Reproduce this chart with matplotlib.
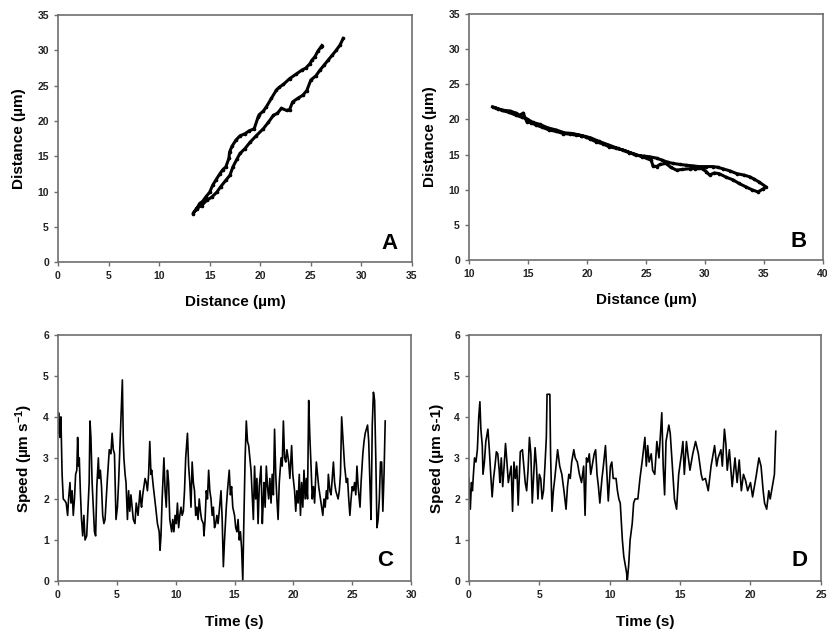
import matplotlib
matplotlib.use("Agg")
import matplotlib.pyplot as plt
import numpy as np

plt.rcParams['font.family'] = ['Liberation Sans', 'DejaVu Sans']
plt.rcParams['font.weight'] = 'bold'
plt.rcParams['mathtext.fontset'] = 'custom'
plt.rcParams['mathtext.rm'] = 'Liberation Sans:bold'
plt.rcParams['mathtext.bf'] = 'Liberation Sans:bold'
plt.rcParams['mathtext.default'] = 'bf'

# panel A: trajectory (um)
a_x = [26.1, 26.0, 25.7, 25.4, 25.1, 24.9, 24.5, 24.1, 23.5, 22.9, 22.3, 21.9, 21.6, 21.1,
       20.6, 20.3, 19.9, 19.8, 19.4, 18.9, 18.5, 18.0, 17.6, 17.2, 16.97, 16.9, 16.6, 16.3,
       16.0, 15.6, 15.3, 15.0, 14.6, 14.3, 14.0, 13.7, 13.35,
       13.7, 14.2, 14.7, 15.2, 15.7, 16.1, 16.6, 17.0, 17.3, 17.7, 18.0, 18.5, 19.0, 19.6,
       20.3, 20.8, 21.3, 21.7, 22.1, 22.6, 22.9, 23.2, 23.7, 24.2, 24.6, 25.0, 25.5, 25.9,
       26.3, 26.7, 27.1, 27.5, 27.9, 28.2]
a_y = [30.7, 30.5, 29.9, 29.1, 28.6, 28.1, 27.5, 27.2, 26.6, 26.0, 25.2, 24.8, 24.4, 23.2,
       22.0, 21.4, 20.9, 20.6, 18.9, 18.6, 18.2, 17.9, 17.3, 16.4, 15.6, 14.7, 13.5, 13.1,
       12.5, 11.6, 10.9, 9.9, 9.2, 8.6, 8.3, 7.5, 6.86,
       7.6, 8.0, 8.75, 9.2, 9.9, 10.7, 11.6, 12.3, 13.5, 14.6, 15.4, 16.1, 17.0, 17.9,
       18.9, 19.8, 20.8, 21.1, 21.8, 21.5, 21.6, 22.7, 23.2, 23.65, 24.3, 25.8, 26.4, 27.2,
       27.9, 28.6, 29.3, 30.0, 30.8, 31.7]

# panel B: trajectory (um)
b_x = [12.0, 12.5, 12.9, 13.5, 14.0, 14.3, 14.6, 14.9, 15.3, 15.7, 16.2, 16.8, 17.4, 18.0,
       18.6, 19.1, 19.5, 19.9, 20.3, 20.8, 21.4, 21.9, 22.5, 23.05, 23.6, 24.2, 24.8, 25.3,
       25.9, 26.4, 26.9, 27.3, 27.9, 28.4, 29.0, 29.5, 30.1, 30.7, 31.1, 31.5, 32.1, 32.7,
       33.3, 33.8, 34.2, 34.6, 35.2,
       34.9, 34.5, 34.0, 33.5, 32.9, 32.4, 31.8, 31.2, 30.8, 30.4, 30.1, 29.8, 29.2, 28.7,
       28.1, 27.6, 27.1, 26.7, 26.2, 25.9, 25.6, 25.45, 24.7, 24.0, 23.3, 22.6, 21.8, 21.0,
       20.3, 19.6, 18.8, 18.1, 17.4, 16.7, 16.0, 15.4, 14.9, 14.5, 14.0, 13.4, 12.8, 12.3]
b_y = [21.8, 21.5, 21.3, 21.2, 20.9, 20.6, 20.9, 19.7, 19.5, 19.2, 18.9, 18.5, 18.3, 18.0,
       17.9, 17.8, 17.7, 17.5, 17.2, 16.8, 16.5, 16.1, 15.9, 15.65, 15.3, 14.9, 14.8, 14.7,
       14.5, 14.2, 13.9, 13.75, 13.6, 13.5, 13.4, 13.3, 13.3, 13.3, 13.2, 13.0, 12.7, 12.3,
       12.1, 11.85, 11.5, 11.1, 10.4,
       10.1, 9.7, 10.0, 10.4, 10.9, 11.4, 11.8, 12.3, 12.4, 12.1, 12.6, 13.0, 13.0, 13.0,
       12.9, 12.8, 13.2, 13.75, 13.6, 13.3, 13.4, 14.2, 14.7, 15.1, 15.5, 15.9, 16.4, 16.9,
       17.4, 17.7, 18.0, 18.1, 18.5, 18.8, 19.3, 19.6, 20.1, 20.3, 20.6, 21.0, 21.3, 21.6]

# panel C: speed vs time
c_t = [0.0, 0.05, 0.15, 0.25, 0.35, 0.45, 0.6, 0.7, 0.82, 0.9, 1.02, 1.1, 1.2, 1.3, 1.4, 1.5,
       1.6, 1.67, 1.75, 1.81, 1.9, 2.0, 2.1, 2.2, 2.3, 2.44, 2.55, 2.65, 2.72, 2.8, 2.9, 3.0,
       3.1, 3.2, 3.3, 3.43, 3.5, 3.6, 3.7, 3.8, 3.9, 4.0, 4.1, 4.2, 4.36, 4.5, 4.6, 4.7, 4.8,
       4.93, 5.05, 5.15, 5.3, 5.47, 5.55, 5.6, 5.7, 5.78, 5.9, 6.0, 6.1, 6.2, 6.3, 6.4, 6.54,
       6.65, 6.8, 6.97, 7.05, 7.1, 7.2, 7.3, 7.4, 7.5, 7.6, 7.7, 7.8, 7.9, 7.96, 8.1, 8.3,
       8.45, 8.6, 8.67, 8.75, 8.85, 9.0, 9.1, 9.2, 9.3, 9.4, 9.5, 9.66, 9.75, 9.85, 9.95,
       10.05, 10.15, 10.25, 10.35, 10.45, 10.55, 10.65, 10.75, 10.85, 11.0, 11.1, 11.2, 11.3,
       11.4, 11.5, 11.6, 11.7, 11.8, 11.9, 12.0, 12.1, 12.2, 12.35, 12.4, 12.5, 12.6, 12.7,
       12.8, 12.9, 13.0, 13.1, 13.2, 13.3, 13.4, 13.5, 13.6, 13.7, 13.85, 13.95, 14.05, 14.15,
       14.3, 14.4, 14.55, 14.65, 14.75, 14.85, 15.0, 15.1, 15.2, 15.3, 15.4, 15.5, 15.6, 15.7,
       15.8, 15.9, 16.0, 16.1, 16.2, 16.3, 16.4, 16.5, 16.6, 16.7, 16.8, 16.9, 17.0, 17.1,
       17.25, 17.36, 17.45, 17.5, 17.6, 17.7, 17.8, 17.9, 18.0, 18.1, 18.2, 18.3, 18.4, 18.5,
       18.6, 18.7, 18.8, 18.95, 19.05, 19.15, 19.25, 19.35, 19.45, 19.6, 19.7, 19.85, 19.95,
       20.1, 20.2, 20.3, 20.4, 20.5, 20.6, 20.7, 20.8, 20.9, 21.0, 21.1, 21.2, 21.3, 21.4,
       21.5, 21.6, 21.7, 21.8, 21.95, 22.05, 22.15, 22.25, 22.35, 22.5, 22.6, 22.7, 22.8,
       22.9, 22.97, 23.1, 23.2, 23.3, 23.4, 23.5, 23.6, 23.7, 23.8, 23.9, 24.0, 24.1, 24.25,
       24.35, 24.5, 24.6, 24.7, 24.8, 24.9, 25.0, 25.1, 25.2, 25.3, 25.4, 25.5, 25.66, 25.75,
       25.9, 26.0, 26.1, 26.2, 26.3, 26.4, 26.5, 26.6, 26.7, 26.8, 26.9, 27.0, 27.1, 27.2,
       27.3, 27.4, 27.5, 27.6, 27.7, 27.8]
c_v = [3.6, 4.1, 3.5, 4.0, 2.6, 2.0, 1.95, 1.9, 1.6, 2.0, 2.4, 1.9, 2.2, 1.6, 2.0, 2.6,
       2.7, 3.5, 2.8, 3.0, 2.2, 1.5, 1.1, 1.6, 1.0, 1.1, 1.8, 2.4, 3.9, 3.5, 2.4, 1.8,
       1.2, 1.1, 2.3, 3.0, 2.5, 2.7, 2.3, 1.6, 1.4, 1.5, 2.0, 2.5, 3.2, 3.1, 3.6, 3.2, 3.1,
       1.5, 1.8, 2.4, 3.6, 4.9, 3.4, 3.0, 2.6, 2.4, 1.5, 2.2, 1.7, 2.1, 1.8, 1.5, 1.4,
       1.9, 1.6, 2.2, 1.9, 1.8, 2.1, 2.3, 2.5, 2.4, 2.2, 2.6, 3.4, 2.6, 2.7, 2.3, 1.8,
       1.4, 1.2, 0.75, 1.1, 2.0, 3.0, 2.2, 1.8, 2.7, 2.4, 1.5, 1.2, 1.5, 1.2, 1.6,
       1.4, 1.9, 1.3, 1.6, 1.8, 1.6, 1.7, 2.2, 3.0, 3.6, 2.8, 2.4, 1.8,
       2.9, 2.4, 2.2, 1.6, 1.8, 1.5, 2.0, 1.7, 1.5, 1.4, 1.1, 1.5, 2.2, 2.0,
       2.7, 2.2, 2.0, 1.6, 1.8, 1.3, 1.4, 1.6, 1.4, 1.7, 2.2, 1.5, 0.35, 1.0,
       1.8, 2.2, 2.7, 2.1, 2.3, 1.8, 1.6, 1.3, 1.2, 1.5, 1.0, 1.2, 0.8, 0.0,
       1.6, 3.0, 3.9, 3.4, 3.3, 3.0, 2.7, 2.1, 1.5, 2.8, 2.0, 2.5, 1.4, 2.3,
       2.8, 1.4, 2.0, 2.4, 1.8, 2.8, 2.3, 2.0, 2.5, 1.9, 2.6, 2.1, 3.7, 2.6,
       2.0, 1.5, 2.4, 3.0, 2.8, 3.9, 3.0, 2.9, 3.2, 2.9, 2.5, 3.3, 2.6,
       2.2, 1.7, 2.2, 1.9, 2.6, 1.6, 2.4, 1.8, 2.7, 2.0, 2.5, 2.0, 4.4, 3.5,
       2.8, 2.0, 2.3, 1.9, 2.9, 2.6, 2.3, 2.1, 1.9, 1.6, 2.0, 1.8, 2.2,
       2.0, 2.6, 2.2, 2.1, 2.5, 2.9, 2.4, 2.2, 2.1, 2.0, 2.2, 2.6, 4.0, 3.3,
       2.8, 2.4, 2.5, 2.0, 1.6, 2.0, 2.3, 2.2, 2.4, 2.1, 2.8, 2.3, 1.8, 2.4,
       3.1, 3.4, 3.6, 3.7, 3.8, 3.4, 2.4, 1.5, 3.8, 4.6, 4.4, 3.0, 1.3, 1.5,
       2.0, 2.9, 2.9, 1.7, 2.6, 3.9]

# panel D: speed vs time
d_t = [0.0, 0.1, 0.18, 0.25, 0.32, 0.4, 0.5, 0.6, 0.7, 0.78, 0.85, 0.95, 1.0, 1.1, 1.2,
       1.35, 1.45, 1.55, 1.65, 1.75, 1.85, 1.95, 2.05, 2.15, 2.2, 2.3, 2.4, 2.5, 2.6, 2.7,
       2.8, 2.9, 3.0, 3.1, 3.2, 3.3, 3.4, 3.5, 3.65, 3.8, 3.9, 4.0, 4.1, 4.2, 4.3, 4.4, 4.5,
       4.6, 4.7, 4.8, 4.9, 5.0, 5.1, 5.2, 5.3, 5.4, 5.5, 5.55, 5.75, 5.8, 5.9, 6.0, 6.1,
       6.3, 6.45, 6.6, 6.75, 6.9, 7.0, 7.1, 7.2, 7.3, 7.45, 7.55, 7.7, 7.85, 8.0, 8.15,
       8.25, 8.35, 8.45, 8.55, 8.65, 8.75, 8.9, 9.0, 9.1, 9.2, 9.3, 9.45, 9.55, 9.7, 9.8,
       9.9, 10.05, 10.15, 10.25, 10.35, 10.45, 10.55, 10.65, 10.75, 10.9, 11.0, 11.1, 11.2,
       11.25, 11.35, 11.45, 11.6, 11.7, 11.8, 12.0, 12.15, 12.3, 12.5, 12.6, 12.7, 12.8,
       12.95, 13.05, 13.2, 13.35, 13.5, 13.7, 13.8, 13.9, 14.0, 14.2, 14.3, 14.45, 14.6,
       14.75, 14.9, 15.1, 15.2, 15.3, 15.45, 15.55, 15.7, 15.9, 16.1, 16.3, 16.5, 16.6,
       16.8, 17.0, 17.2, 17.45, 17.6, 17.7, 17.9, 18.0, 18.15, 18.25, 18.35, 18.5, 18.7,
       18.9, 19.05, 19.2, 19.35, 19.5, 19.65, 19.8, 20.0, 20.15, 20.4, 20.6, 20.75, 20.9,
       21.0, 21.15, 21.3, 21.4, 21.5, 21.7, 21.8]
d_v = [2.5, 1.75, 2.4, 2.2, 2.6, 3.0, 2.9, 3.2, 4.0, 4.37, 3.7, 3.3, 2.6, 2.9, 3.4,
       3.7, 3.2, 2.6, 2.05, 2.5, 2.8, 3.15, 3.1, 2.7, 2.4, 3.0, 2.3, 2.8, 3.35, 2.9,
       2.4, 2.6, 2.8, 1.7, 2.9, 2.5, 2.8, 1.85, 3.15, 3.2, 2.8, 2.4, 2.2, 2.7, 3.5, 3.1, 1.9,
       2.6, 3.25, 2.8, 2.0, 2.6, 2.5, 2.0, 2.2, 2.8, 3.5, 4.55, 4.55, 3.1, 1.7, 2.2, 2.5,
       3.2, 2.8, 2.6, 2.2, 1.75, 2.3, 2.6, 2.5, 2.9, 3.2, 3.0, 2.9, 2.6, 2.4, 2.8,
       1.6, 3.0, 2.9, 3.1, 2.6, 2.8, 3.1, 3.2, 2.6, 2.3, 1.9, 2.5, 2.8, 3.3, 2.6,
       1.95, 2.8, 2.9, 2.5, 2.5, 2.5, 2.2, 2.0, 1.9, 1.0, 0.6, 0.4, 0.2,
       0.0, 0.4, 1.0, 1.4, 1.9, 2.0, 2.0, 2.5, 2.9, 3.5, 2.8, 3.3, 2.9,
       3.1, 2.7, 2.6, 3.4, 3.0, 4.1, 2.8, 2.1, 3.4, 3.8, 3.6, 2.8, 2.0,
       1.75, 2.6, 3.1, 3.4, 2.6, 3.4, 3.1, 2.7, 3.1, 3.4, 3.1, 2.6, 2.46,
       2.5, 2.2, 2.8, 3.3, 2.8, 3.0, 3.2, 2.8, 3.7, 3.35, 2.7, 3.2, 2.3,
       3.0, 2.4, 2.95, 2.2, 2.6, 2.45, 2.2, 2.4, 2.05, 2.55, 3.0, 2.8, 2.2,
       1.9, 1.75, 2.2, 2.0, 2.2, 2.6, 3.65]

fig = plt.figure(figsize=(8.27, 6.33), dpi=100)
axA = fig.add_axes([0.0701, 0.586, 0.428, 0.390])
axB = fig.add_axes([0.567, 0.589, 0.428, 0.389])
axC = fig.add_axes([0.0701, 0.0821, 0.427, 0.389])
axD = fig.add_axes([0.567, 0.0821, 0.4256, 0.389])


def style(ax, letter, lx, ly):
    for s in ax.spines.values():
        s.set_color('#6e6e6e')
        s.set_linewidth(1.2)
    ax.tick_params(direction='out', length=3, width=1, color='#6e6e6e',
                   labelsize=7.5, labelcolor='#222222', top=False, right=False)
    for lab in ax.get_xticklabels() + ax.get_yticklabels():
        lab.set_fontweight('bold')
    ax.text(lx, ly, letter, transform=ax.transAxes, fontsize=16, fontweight='bold',
            ha='center', va='center')


axA.plot(a_x, a_y, color='black', lw=2.2, marker='o', ms=1.6)
axA.set_xlim(0, 35)
axA.set_ylim(0, 35)
axA.set_xticks(np.arange(0, 36, 5))
axA.set_yticks(np.arange(0, 36, 5))
axA.set_xlabel('Distance (µm)', fontsize=11, fontweight='bold', labelpad=10)
axA.set_ylabel('Distance (µm)', fontsize=11, fontweight='bold', labelpad=8)
style(axA, 'A', 0.938, 0.077)

axB.plot(b_x, b_y, color='black', lw=2.2, marker='o', ms=1.6)
axB.set_xlim(10, 40)
axB.set_ylim(0, 35)
axB.set_xticks(np.arange(10, 41, 5))
axB.set_yticks(np.arange(0, 36, 5))
axB.set_xlabel('Distance (µm)', fontsize=11, fontweight='bold', labelpad=10)
axB.set_ylabel('Distance (µm)', fontsize=11, fontweight='bold', labelpad=8)
style(axB, 'B', 0.93, 0.077)

axC.plot(c_t, c_v, color='black', lw=1.2)
axC.set_xlim(0, 30)
axC.set_ylim(0, 6)
axC.set_xticks(np.arange(0, 31, 5))
axC.set_yticks(np.arange(0, 7, 1))
axC.set_xlabel('Time (s)', fontsize=11, fontweight='bold', labelpad=11)
axC.set_ylabel('Speed (µm s$^{\\mathbf{-1}}$)', fontsize=11, fontweight='bold', labelpad=6)
style(axC, 'C', 0.926, 0.085)

axD.plot(d_t, d_v, color='black', lw=1.2)
axD.set_xlim(0, 25)
axD.set_ylim(0, 6)
axD.set_xticks(np.arange(0, 26, 5))
axD.set_yticks(np.arange(0, 7, 1))
axD.set_xlabel('Time (s)', fontsize=11, fontweight='bold', labelpad=11)
axD.set_ylabel('Speed (µm s-1)', fontsize=11, fontweight='bold', labelpad=7)
style(axD, 'D', 0.94, 0.085)

fig.savefig('out.png', dpi=100)
